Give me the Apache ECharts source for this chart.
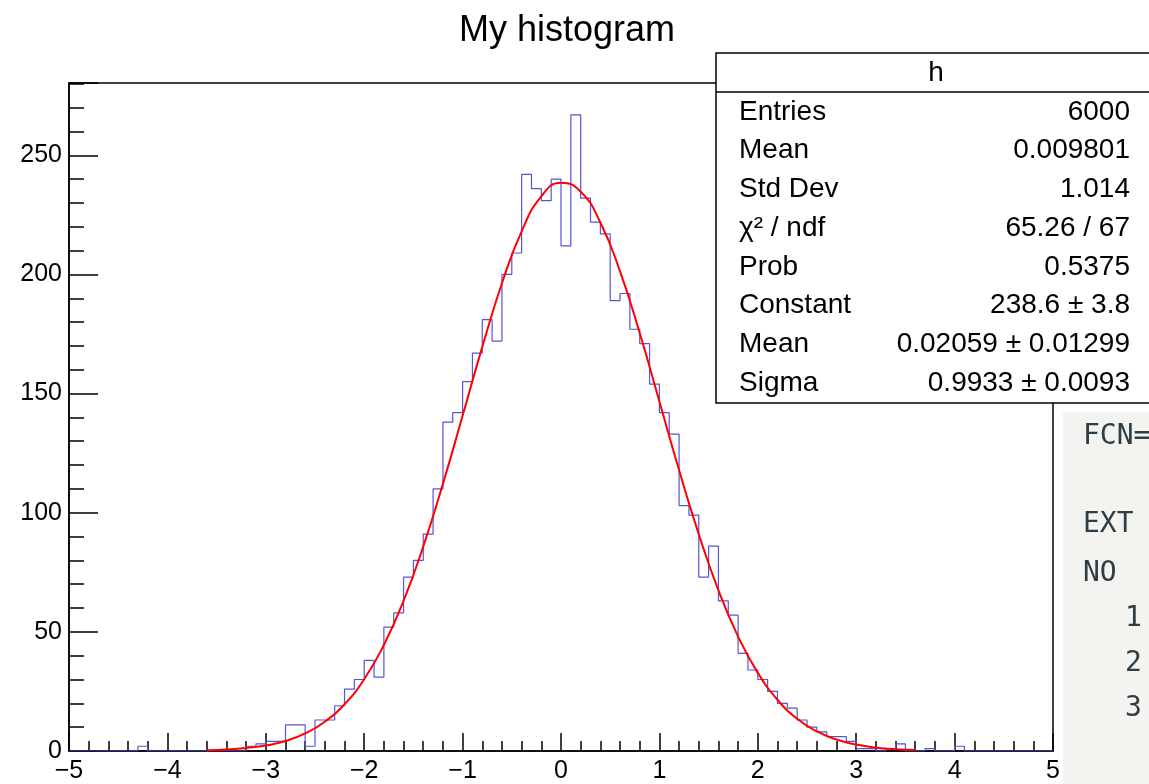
<!DOCTYPE html>
<html>
<head>
<meta charset="utf-8">
<script src="https://cdn.jsdelivr.net/npm/echarts@6/dist/echarts.min.js"></script>
<style>
  html, body { margin: 0; padding: 0; background: #fff; }
  #chart { width: 1149px; height: 784px; }
</style>
</head>
<body>
<div id="chart"></div>
<script>
// ---- Data ----
const binLow = -5;
const binWidth = 0.1;
const counts = [
  0, 0, 0, 0, 0, 0, 0, 2, 0, 0,
  0, 0, 0, 0, 0, 0, 0, 0, 2, 3,
  4, 4, 11, 11, 2, 13, 13, 19, 26, 30,
  38, 31, 52, 58, 73, 80, 91, 110, 138, 142,
  155, 167, 181, 172, 200, 209, 242, 236, 231, 240,
  212, 267, 232, 222, 217, 189, 192, 177, 171, 154,
  142, 133, 103, 99, 73, 86, 63, 57, 41, 34,
  30, 25, 20, 18, 13, 10, 8, 6, 6, 4,
  1, 1, 0, 1, 3, 0, 0, 1, 0, 0,
  2, 0, 0, 0, 0, 0, 0, 0, 0, 0
];
const fitX = [-3.6, -3.4, -3.2, -3.0, -2.8, -2.6, -2.4, -2.2, -2.0, -1.8,
  -1.6, -1.4, -1.2, -1.0, -0.8, -0.6, -0.4, -0.2, 0.0, 0.2,
  0.4, 0.6, 0.8, 1.0, 1.2, 1.4, 1.6, 1.8, 2.0, 2.2,
  2.4, 2.6, 2.8, 3.0, 3.2, 3.4, 3.6];
const fitY = [0.3, 0.6, 1.3, 2.3, 4.2, 7.4, 12.3, 19.6, 30.1, 44.5,
  63.0, 85.8, 112.1, 140.7, 169.6, 196.3, 218.1, 232.8, 238.5, 234.7,
  221.8, 201.3, 175.4, 146.7, 117.9, 91.0, 67.4, 48.0, 32.8, 21.5,
  13.5, 8.2, 4.8, 2.7, 1.4, 0.7, 0.4];
const xMin = -5, xMax = 5, xTickStep = 1;
const yMin = 0, yMax = 280.35, yTickStep = 50, yMinorStep = 10;
const titleText = 'My histogram';
const statsName = 'h';
const statsLabels = ['Entries', 'Mean', 'Std Dev', '\u03c7\u00b2 / ndf', 'Prob', 'Constant', 'Mean', 'Sigma'];
const statsValues = ['6000', '0.009801', '1.014', '65.26 / 67', '0.5375', '238.6 \u00b1 3.8', '0.02059 \u00b1 0.01299', '0.9933 \u00b1 0.0093'];
const sideLines = ['FCN=', 'EXT', 'NO', '1', '2', '3'];

// ---- Build series data ----
const histData = counts.map((c, i) => [binLow + i * binWidth, c]);
histData.push([binLow + counts.length * binWidth, counts[counts.length - 1]]);
const fitData = fitX.map((x, i) => [x, fitY[i]]);

const FONT = '"Liberation Sans", Arial, Helvetica, sans-serif';
const MONO = '"DejaVu Sans Mono", "Liberation Mono", monospace';
const minus = v => String(v).replace('-', '\u2212');

// ---- Stats box graphic ----
const boxX = 716, boxY = 53, boxW = 460, boxH = 350, headH = 39, rowH = 38.7;
const statsEls = [
  { type: 'rect', shape: { x: boxX, y: boxY, width: boxW, height: boxH },
    style: { fill: '#fff', stroke: '#000', lineWidth: 1.5 }, z: 100 },
  { type: 'line', shape: { x1: boxX, y1: boxY + headH, x2: boxX + boxW, y2: boxY + headH },
    style: { stroke: '#000', lineWidth: 1.5 }, z: 101 },
  { type: 'text', x: 936, y: boxY + headH / 2 + 1, z: 101,
    style: { text: statsName, font: '28px ' + FONT, fill: '#000', textAlign: 'center', textVerticalAlign: 'middle' } }
];
statsLabels.forEach((lab, i) => {
  const cy = boxY + headH + 20 + i * rowH;
  statsEls.push({ type: 'text', x: 739, y: cy, z: 101,
    style: { text: lab, font: '28px ' + FONT, fill: '#000', textAlign: 'left', textVerticalAlign: 'middle' } });
  statsEls.push({ type: 'text', x: 1130, y: cy, z: 101,
    style: { text: statsValues[i], font: '28px ' + FONT, fill: '#000', textAlign: 'right', textVerticalAlign: 'middle' } });
});

// ---- Side panel (console output strip) ----
const sideY = [437, 525, 574, 619, 664, 709];
const sideXs = [1083, 1083, 1083, 1125, 1125, 1125];
const sideEls = [
  { type: 'rect', shape: { x: 1063, y: 412, width: 120, height: 400 },
    style: { fill: '#f3f3f0' }, z: 90 }
];
sideLines.forEach((t, i) => {
  sideEls.push({ type: 'text', x: sideXs[i], y: sideY[i], z: 91,
    style: { text: t, font: '28px ' + MONO, fill: '#2e3d46', textAlign: 'left', textVerticalAlign: 'middle' } });
});

const chart = echarts.init(document.getElementById('chart'), null, { renderer: 'canvas' });
chart.setOption({
  animation: false,
  backgroundColor: '#fff',
  title: {
    text: titleText, left: 562, top: 8, textAlign: 'center',
    textStyle: { fontSize: 36, fontWeight: 'normal', color: '#000', fontFamily: FONT }
  },
  grid: { left: 69, top: 83, width: 984, height: 669, show: true,
    borderColor: '#000', borderWidth: 1.5, backgroundColor: 'transparent' },
  xAxis: {
    type: 'value', min: xMin, max: xMax, interval: xTickStep,
    axisLine: { show: true, onZero: false, lineStyle: { color: '#000', width: 1.5 } },
    axisTick: { show: true, inside: true, length: 18, lineStyle: { color: '#000', width: 1.5 } },
    minorTick: { show: true, splitNumber: 5, length: 10, lineStyle: { color: '#000', width: 1.5 } },
    splitLine: { show: false },
    axisLabel: { fontSize: 25, color: '#000', fontFamily: FONT, margin: 8, formatter: minus }
  },
  yAxis: [
    {
      type: 'value', min: yMin, max: yMax, interval: yTickStep, position: 'left',
      axisLine: { show: true, onZero: false, lineStyle: { color: '#000', width: 1.5 } },
      axisTick: { show: true, inside: true, length: 29, lineStyle: { color: '#000', width: 1.5 } },
      splitLine: { show: false },
      axisLabel: { fontSize: 25, color: '#000', fontFamily: FONT, margin: 7,
        formatter: v => (Math.abs(v % yTickStep) < 1e-9 ? String(v) : '') }
    },
    {
      type: 'value', min: yMin, max: yMax, interval: yMinorStep, position: 'left', offset: 0,
      axisLine: { show: false, onZero: false },
      axisTick: { show: true, inside: true, length: 15, lineStyle: { color: '#000', width: 1.5 } },
      splitLine: { show: false },
      axisLabel: { show: false }
    }
  ],
  series: [
    {
      name: 'h', type: 'line', step: 'end', data: histData, symbol: 'none',
      xAxisIndex: 0, yAxisIndex: 0,
      lineStyle: { color: '#5555d8', width: 1.2 }, z: 3
    },
    {
      name: 'gaus', type: 'line', data: fitData, symbol: 'none', smooth: 0.5,
      xAxisIndex: 0, yAxisIndex: 0,
      lineStyle: { color: '#ff0000', width: 2 }, z: 4
    }
  ],
  graphic: { elements: statsEls.concat(sideEls) }
});
</script>
</body>
</html>
